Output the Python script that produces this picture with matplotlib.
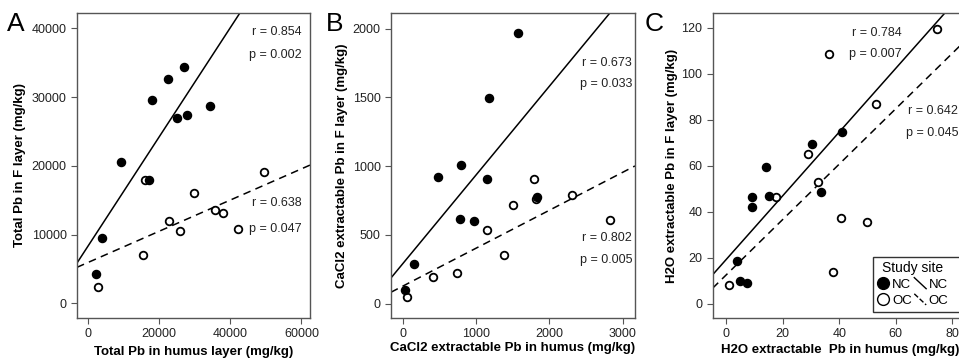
import numpy as np
import matplotlib
matplotlib.use("Agg")
import matplotlib.pyplot as plt
from matplotlib.lines import Line2D
from matplotlib.patches import Rectangle
from matplotlib.legend_handler import HandlerBase

plt.rcParams['font.family'] = ['Liberation Sans', 'DejaVu Sans']

# ---- data ----
# panel A: total Pb
a_nc_x = [2200, 3900, 9250, 17200, 18000, 22600, 25200, 27100, 27750, 34300]
a_nc_y = [4200, 9450, 20500, 17900, 29600, 32600, 26950, 34400, 27450, 28700]
a_oc_x = [2800, 15400, 16100, 22900, 25900, 29800, 35700, 38000, 42100, 49400]
a_oc_y = [2300, 7000, 18000, 11900, 10500, 16100, 13500, 13200, 10800, 19100]

# panel B: CaCl2 extractable Pb
b_nc_x = [25, 150, 480, 790, 775, 960, 1150, 1170, 1565, 1825]
b_nc_y = [97, 290, 920, 1005, 618, 604, 909, 1496, 1968, 773]
b_oc_x = [50, 410, 740, 1140, 1375, 1495, 1790, 1815, 2310, 2830]
b_oc_y = [50, 194, 221, 533, 354, 718, 907, 762, 788, 606]

# panel C: H2O extractable Pb
c_nc_x = [3.8, 5.0, 7.3, 9.2, 9.2, 14.1, 15.2, 30.3, 33.6, 40.9]
c_nc_y = [18.5, 10.1, 9.0, 46.6, 41.9, 59.7, 47.0, 69.4, 48.8, 74.7]
c_oc_x = [1.2, 17.7, 29.1, 32.4, 36.4, 37.7, 40.8, 49.8, 53.0, 74.5]
c_oc_y = [8.0, 46.6, 65.3, 53.1, 108.6, 13.7, 37.2, 35.5, 86.7, 119.6]

stats_a = [("r = 0.854", "p = 0.002"), ("r = 0.638", "p = 0.047")]
stats_b = [("r = 0.673", "p = 0.033"), ("r = 0.802", "p = 0.005")]
stats_c = [("r = 0.784", "p = 0.007"), ("r = 0.642", "p = 0.045")]

fig = plt.figure(figsize=(9.59, 3.64), dpi=100)

axA = fig.add_axes([0.0803, 0.1264, 0.243, 0.8379])
axB = fig.add_axes([0.4077, 0.1264, 0.2544, 0.8379])
axC = fig.add_axes([0.7432, 0.1264, 0.2735, 0.8379])


def panel(ax, nx, ny, ox, oy, xlim, ylim):
    ax.set_xlim(*xlim)
    ax.set_ylim(*ylim)
    xs = np.array(xlim)
    for x, y, ls in [(nx, ny, '-'), (ox, oy, (0, (5, 3.5)))]:
        k, b = np.polyfit(x, y, 1)
        ax.plot(xs, k * xs + b, color='black', lw=1.1, ls=ls, zorder=2)
    ax.scatter(ox, oy, s=30, facecolors='white', edgecolors='black', linewidths=1.3, zorder=3)
    ax.scatter(nx, ny, s=34, color='black', zorder=4)
    for sp in ax.spines.values():
        sp.set_color('#555555')
        sp.set_linewidth(1.0)
    ax.tick_params(direction='out', length=4, width=0.8, color='#555555',
                   labelsize=9, labelcolor='#222222')


panel(axA, a_nc_x, a_nc_y, a_oc_x, a_oc_y, (-3000, 62400), (-2150, 42250))
axA.set_xticks([0, 20000, 40000, 60000])
axA.set_yticks([0, 10000, 20000, 30000, 40000])
axA.set_xlabel("Total Pb in humus layer (mg/kg)", fontsize=9.5, fontweight='bold')
axA.set_ylabel("Total Pb in F layer (mg/kg)", fontsize=9.5, fontweight='bold')
axA.xaxis.set_label_coords(0.5, -0.092)
axA.yaxis.set_label_coords(-0.219, 0.5)

panel(axB, b_nc_x, b_nc_y, b_oc_x, b_oc_y, (-170, 3170), (-105, 2115))
axB.set_xticks([0, 1000, 2000, 3000])
axB.set_yticks([0, 500, 1000, 1500, 2000])
axB.set_xlabel("CaCl2 extractable Pb in humus (mg/kg)", fontsize=9.5, fontweight='bold')
axB.set_ylabel("CaCl2 extractable Pb in F layer (mg/kg)", fontsize=9.5, fontweight='bold')
axB.xaxis.set_label_coords(0.5, -0.079)
axB.yaxis.set_label_coords(-0.176, 0.5)

panel(axC, c_nc_x, c_nc_y, c_oc_x, c_oc_y, (-4.7, 88), (-6.2, 126.5))
axC.set_xticks([0, 20, 40, 60, 80])
axC.set_yticks([0, 20, 40, 60, 80, 100, 120])
axC.set_xlabel("H2O extractable  Pb in humus (mg/kg)", fontsize=9.5, fontweight='bold')
axC.set_ylabel("H2O extractable Pb in F layer (mg/kg)", fontsize=9.5, fontweight='bold')
axC.xaxis.set_label_coords(0.485, -0.085)
axC.yaxis.set_label_coords(-0.133, 0.5)


def txt(xpix, ypix, s):
    fig.text(xpix / 959, 1 - ypix / 364, s, ha='right', va='center', fontsize=9, color='#222222')


txt(302, 32, stats_a[0][0]); txt(302, 55, stats_a[0][1])
txt(302, 203, stats_a[1][0]); txt(302, 229, stats_a[1][1])
txt(632, 63, stats_b[0][0]); txt(632, 84, stats_b[0][1])
txt(632, 238, stats_b[1][0]); txt(632, 260, stats_b[1][1])
txt(902, 33, stats_c[0][0]); txt(902, 54, stats_c[0][1])
txt(958, 111, stats_c[1][0]); txt(958, 133, stats_c[1][1])

for lab, xp in [("A", 7), ("B", 326), ("C", 645)]:
    fig.text(xp / 959, 1 - 24 / 364, lab, fontsize=19, ha='left', va='center')


class DiagHandler(HandlerBase):
    def create_artists(self, legend, orig_handle, xdescent, ydescent,
                       width, height, fontsize, trans):
        ln = Line2D([0, width], [height * 1.1, -height * 0.1], color='black',
                    lw=1.0, ls=orig_handle.get_linestyle())
        ln.set_transform(trans)
        return [ln]


# legend frame runs past the right edge of the picture, as in the original
box = Rectangle((873 / 959, 1 - 312 / 364), 110 / 959, 55 / 364, transform=fig.transFigure,
                facecolor='white', edgecolor='#333333', lw=1.0, clip_on=False, zorder=5)
axC.add_patch(box)

h_nc = Line2D([], [], marker='o', ls='none', markersize=8.5, color='black')
h_oc = Line2D([], [], marker='o', ls='none', markersize=8.5, markerfacecolor='white',
              markeredgecolor='black', markeredgewidth=1.0)
l_nc = Line2D([], [], color='black', ls='-')
l_oc = Line2D([], [], color='black', ls=(0, (2, 2)))
leg = axC.legend([h_nc, h_oc, l_nc, l_oc], ["NC", "OC", "NC", "OC"], ncol=2,
                 title="Study site", fontsize=9.5, title_fontsize=10,
                 loc='upper left', bbox_to_anchor=(0.585, 0.225),
                 handler_map={l_nc: DiagHandler(), l_oc: DiagHandler()},
                 handlelength=0.9, handletextpad=0.2, columnspacing=0.2,
                 labelspacing=0.3, borderpad=0.35, frameon=False)
leg.set_zorder(6)

fig.savefig("out.png", dpi=100)
